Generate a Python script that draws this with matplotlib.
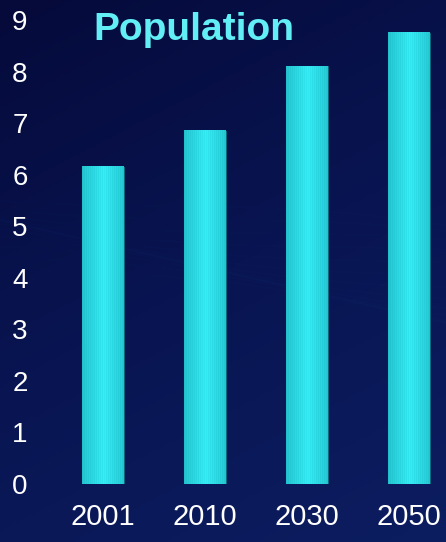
import matplotlib
matplotlib.use("Agg")
import matplotlib.pyplot as plt
import numpy as np
from matplotlib.colors import LinearSegmentedColormap

plt.rcParams['font.family'] = ['Liberation Sans', 'DejaVu Sans']

# data
years = ['2001', '2010', '2030', '2050']
population = [6.15, 6.85, 8.1, 8.75]
yticks = [0, 1, 2, 3, 4, 5, 6, 7, 8, 9]

W, H = 446, 542
fig = plt.figure(figsize=(W / 100, H / 100), dpi=100)

# background gradient (dark navy, lighter towards bottom/right)
bg = fig.add_axes([0, 0, 1, 1], zorder=-1)
yy, xx = np.mgrid[0:1:200j, 0:1:200j]
g = 0.7 * yy + 0.3 * xx
bg_cmap = LinearSegmentedColormap.from_list('bg', ['#050a3a', '#091552', '#0c1d60'])
bg.imshow(g, cmap=bg_cmap, aspect='auto', extent=[0, 1, 0, 1], origin='upper')
# faint wavy streaks
for k in range(14):
    t = np.linspace(0, 1, 200)
    bg.plot(t, 0.5 + 0.012 * k + 0.03 * np.sin(3 * t + k * 0.4) - 0.1 * t,
            color='#3050a0', alpha=0.025, lw=1.5)
bg.set_xlim(0, 1)
bg.set_ylim(0, 1)
bg.axis('off')

ax = fig.add_axes([40 / W, 58 / H, 406 / W, 484 / H])
ax.patch.set_alpha(0)
x = np.arange(len(years))
bars = ax.bar(x, population, width=0.41, color='none', edgecolor='#127a8a', linewidth=0.6)

# striped cyan fill for each bar
stripes = np.array([0.45, 0.55, 0.5, 0.62, 0.55, 0.66, 0.6, 0.7, 0.64, 0.74, 0.68, 0.78,
                    0.72, 0.84, 0.76, 0.88, 0.8, 0.92, 0.85, 0.97, 0.9, 1.0, 0.93, 0.98,
                    0.86, 0.94, 0.82, 0.9, 0.78, 0.86, 0.74, 0.82, 0.7, 0.78, 0.66, 0.74,
                    0.62, 0.7, 0.58, 0.64, 0.55, 0.5])
bar_cmap = LinearSegmentedColormap.from_list('bar', ['#1697a6', '#22c4d0', '#34eef6'])
for b in bars:
    x0, w, h = b.get_x(), b.get_width(), b.get_height()
    ax.imshow(stripes[None, :], cmap=bar_cmap, vmin=0, vmax=1, aspect='auto',
              extent=[x0, x0 + w, 0, h], zorder=1, interpolation='nearest')

ax.set_xlim((40 - 103) / 102, (446 - 103) / 102)
ax.set_ylim(0, 484 / 51.56)
ax.set_xticks(x)
ax.set_xticklabels(years)
ax.set_yticks(yticks)
for s in ax.spines.values():
    s.set_visible(False)
ax.tick_params(axis='both', length=0, colors='white', labelsize=21)
ax.tick_params(axis='y', labelsize=20, pad=9)
ax.tick_params(axis='x', pad=14)

fig.text(193.5 / W, (H - 40) / H, 'Population', color='#62eef5', fontsize=28,
         fontweight='bold', ha='center', va='baseline')

fig.savefig('out.png', dpi=100, facecolor='#070f45')
